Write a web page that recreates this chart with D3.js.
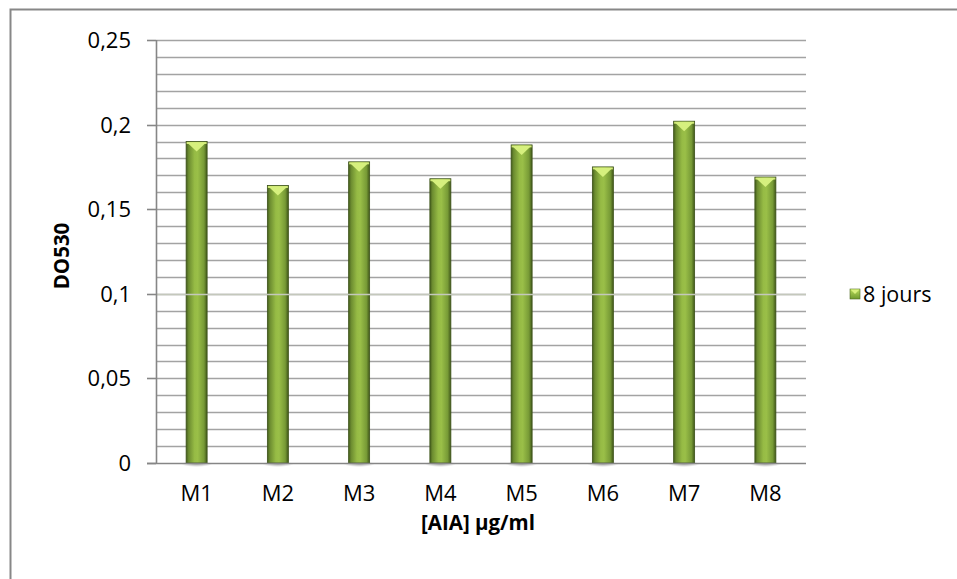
<!DOCTYPE html>
<html>
<head>
<meta charset="utf-8">
<script src="https://cdn.jsdelivr.net/npm/d3@7/dist/d3.min.js"></script>
<style>
  html, body { margin: 0; padding: 0; background: #fff; }
  svg { display: block; font-family: "Open Sans", Lato, "Liberation Sans", sans-serif; }
</style>
</head>
<body>
<svg id="chart" width="957" height="579"></svg>
<script>
// Absorbance at 530 nm for each sample after 8 days
const categories = ["M1", "M2", "M3", "M4", "M5", "M6", "M7", "M8"];
const values = [0.190, 0.164, 0.178, 0.168, 0.188, 0.175, 0.202, 0.169];
const seriesName = "8 jours";
const yTicks = [0, 0.05, 0.1, 0.15, 0.2, 0.25];
const yTickLabels = ["0", "0,05", "0,1", "0,15", "0,2", "0,25"];
const yMinorTicks = d3.range(0, 26).map(i => i / 100);

const svg = d3.select("#chart");
const plot = { left: 156, right: 806, top: 40, bottom: 463 };

// frame around the chart area
svg.append("rect")
  .attr("x", 10.5).attr("y", 9.5)
  .attr("width", 960).attr("height", 600)
  .attr("fill", "#fff").attr("stroke", "#878787").attr("stroke-width", 2);

const x = d3.scaleBand().domain(categories).range([plot.left, plot.right]).paddingInner(0).paddingOuter(0);
const y = d3.scaleLinear().domain([0, 0.25]).range([plot.bottom, plot.top]);

const defs = svg.append("defs");
const grad = defs.append("linearGradient").attr("id", "barGrad")
  .attr("x1", "0").attr("x2", "1").attr("y1", "0").attr("y2", "0");
[["0%", "#445c1c"], ["12%", "#6c8c30"], ["40%", "#96bb45"], ["55%", "#9abf48"], ["85%", "#779a36"], ["100%", "#405619"]]
  .forEach(([o, c]) => grad.append("stop").attr("offset", o).attr("stop-color", c));
const shadow = defs.append("radialGradient").attr("id", "shadowGrad");
shadow.append("stop").attr("offset", "0%").attr("stop-color", "#000").attr("stop-opacity", 0.35);
shadow.append("stop").attr("offset", "100%").attr("stop-color", "#000").attr("stop-opacity", 0);

// horizontal gridlines every 0.01
svg.append("g").selectAll("line").data(yMinorTicks.filter(d => d > 0)).join("line")
  .attr("x1", plot.left).attr("x2", plot.right)
  .attr("y1", d => Math.round(y(d)) + 0.5).attr("y2", d => Math.round(y(d)) + 0.5)
  .attr("stroke", "#a3a3a3").attr("stroke-width", 1.6);

// bars
const barW = 21;
const bars = svg.append("g").selectAll("g").data(categories.map((c, i) => ({ c, v: values[i] }))).join("g");
bars.append("ellipse")
  .attr("cx", d => x(d.c) + x.bandwidth() / 2).attr("cy", plot.bottom + 1)
  .attr("rx", barW * 0.75).attr("ry", 3).attr("fill", "url(#shadowGrad)");
bars.append("rect")
  .attr("x", d => x(d.c) + x.bandwidth() / 2 - barW / 2)
  .attr("y", d => y(d.v))
  .attr("width", barW).attr("height", d => y(0) - y(d.v))
  .attr("fill", "url(#barGrad)").attr("stroke", "#3d531a").attr("stroke-width", 0.8);
// bevelled top
bars.append("rect")
  .attr("x", d => x(d.c) + x.bandwidth() / 2 - barW / 2 + 0.5)
  .attr("y", d => y(d.v) + 0.5)
  .attr("width", barW - 1).attr("height", 2)
  .attr("fill", "#cde574");
bars.append("path")
  .attr("d", d => {
    const cx = x(d.c) + x.bandwidth() / 2, t = y(d.v) + 1;
    return `M${cx - barW / 2 + 1},${t} L${cx + barW / 2 - 1},${t} L${cx},${t + 9} Z`;
  })
  .attr("fill", "#d6f07e");

// light line at 0.1 running across the bars
svg.append("line").attr("x1", plot.left).attr("x2", plot.right)
  .attr("y1", Math.round(y(0.1)) + 0.5).attr("y2", Math.round(y(0.1)) + 0.5)
  .attr("stroke", "#c4c8bc").attr("stroke-width", 1.6);

// left axis
svg.append("line").attr("x1", plot.left + 0.5).attr("x2", plot.left + 0.5)
  .attr("y1", plot.top).attr("y2", plot.bottom).attr("stroke", "#868686").attr("stroke-width", 1.6);
svg.append("line").attr("x1", plot.left - 9).attr("x2", plot.right)
  .attr("y1", plot.bottom + 0.5).attr("y2", plot.bottom + 0.5).attr("stroke", "#868686").attr("stroke-width", 1.6);
svg.append("g").selectAll("line").data(yTicks).join("line")
  .attr("x1", plot.left - 9).attr("x2", plot.left)
  .attr("y1", d => Math.round(y(d)) + 0.5).attr("y2", d => Math.round(y(d)) + 0.5)
  .attr("stroke", "#868686").attr("stroke-width", 1.6);
svg.append("g").selectAll("text").data(yTicks).join("text")
  .attr("x", 131).attr("y", d => y(d))
  .attr("dy", "0.36em").attr("text-anchor", "end")
  .attr("font-size", 22).attr("fill", "#000")
  .text((d, i) => yTickLabels[i]);

// category labels
svg.append("g").selectAll("text").data(categories).join("text")
  .attr("x", d => x(d) + x.bandwidth() / 2).attr("y", 501)
  .attr("text-anchor", "middle").attr("font-size", 22).attr("fill", "#000")
  .text(d => d);

// axis titles
svg.append("text").attr("x", 478).attr("y", 530).attr("text-anchor", "middle")
  .attr("font-size", 20.5).attr("font-weight", "bold").text("[AIA] µg/ml");
svg.append("text").attr("transform", "translate(69,256) rotate(-90)").attr("text-anchor", "middle")
  .attr("font-size", 20.5).attr("font-weight", "bold").text("DO530");

// legend
const lg = svg.append("g").attr("transform", "translate(850,289)");
const lgGrad = defs.append("linearGradient").attr("id", "lgGrad").attr("x1", 0).attr("x2", 0).attr("y1", 0).attr("y2", 1);
lgGrad.append("stop").attr("offset", "0%").attr("stop-color", "#b9dc5c");
lgGrad.append("stop").attr("offset", "100%").attr("stop-color", "#6f9a2e");
lg.append("rect").attr("width", 10).attr("height", 10).attr("fill", "url(#lgGrad)").attr("stroke", "#4f6a22").attr("stroke-width", 0.6);
lg.append("path").attr("d", "M0.5,0.5 L9.5,0.5 L5,5 Z").attr("fill", "#d8f07e");
lg.append("text").attr("x", 13).attr("y", 5).attr("dy", "0.36em")
  .attr("font-size", 21.5).attr("fill", "#000").text(seriesName);
</script>
</body>
</html>
